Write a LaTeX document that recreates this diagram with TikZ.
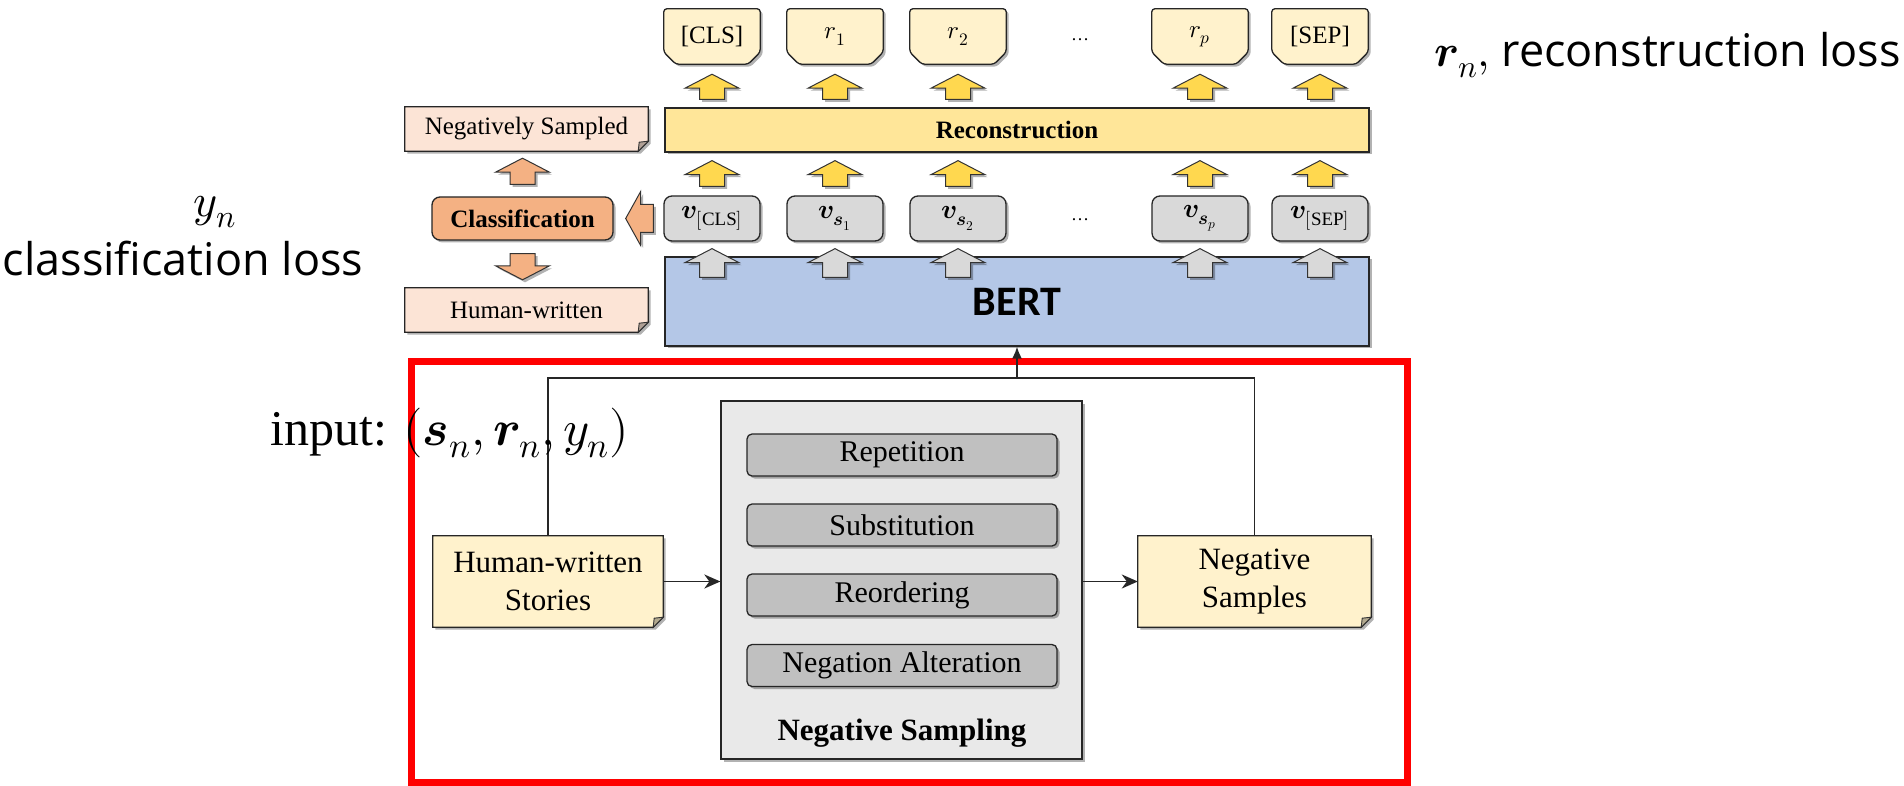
\documentclass[tikz,border=0pt]{standalone}
\usepackage{fontspec}
\usepackage{unicode-math}
\setmainfont{Liberation Serif}
\setmathfont{Latin Modern Math}
\newfontfamily\legendfont{Open Sans}
\newfontfamily\bertfont{Carlito}
\usetikzlibrary{arrows.meta, shadows, backgrounds, calc}

\definecolor{outY}{HTML}{FFF2CC}
\definecolor{recY}{HTML}{FFE699}
\definecolor{arrY}{HTML}{FFD84F}
\definecolor{vGray}{HTML}{D9D9D9}
\definecolor{bertBlue}{HTML}{B4C7E7}
\definecolor{peach}{HTML}{FCE4D6}
\definecolor{clsOr}{HTML}{F4B183}
\definecolor{nsGray}{HTML}{E9E9E9}
\definecolor{btnGray}{HTML}{C0C0C0}

\newcommand\fsz[2]{\fontsize{#1}{#2}\selectfont}

% output slot: square top, chamfered bottom corners
\newcommand\slotframe[1]{%
  \path[bord, shad, fill=outY, rounded corners=3pt]
    (#1.north west) -- (#1.north east) -- ([yshift=12pt]#1.south east)
    -- ([xshift=-12pt]#1.south east) -- ([xshift=12pt]#1.south west)
    -- ([yshift=12pt]#1.south west) -- cycle;}

% note with a folded bottom-right corner
\newcommand\noteframe[2]{%
  \path[bord, shad, fill=#2]
    (#1.north west) -- (#1.north east) -- ([yshift=10pt]#1.south east)
    -- ([xshift=-10pt]#1.south east) -- (#1.south west) -- cycle;
  \path[draw=black!80, line width=0.9pt, fill=#2!70!black]
    ([yshift=10pt]#1.south east) -- ([xshift=-10pt]#1.south east)
    -- ([xshift=-9pt,yshift=9pt]#1.south east) -- cycle;}

% block arrows: fill, reference for the axis, base point, tip point
\newcommand\fatup[4]{%
  \path[fatarr, fill=#1] let \p3=#2, \p1=#3, \p2=#4 in
    (\x3-12.5pt,\y1) -- (\x3+12.5pt,\y1) -- (\x3+12.5pt,\y2-14pt) -- (\x3+27pt,\y2-14pt)
    -- (\x3,\y2) -- (\x3-27pt,\y2-14pt) -- (\x3-12.5pt,\y2-14pt) -- cycle;}
\newcommand\fatdown[4]{%
  \path[fatarr, fill=#1] let \p3=#2, \p1=#3, \p2=#4 in
    (\x3-12.5pt,\y1) -- (\x3+12.5pt,\y1) -- (\x3+12.5pt,\y2+14pt) -- (\x3+27pt,\y2+14pt)
    -- (\x3,\y2) -- (\x3-27pt,\y2+14pt) -- (\x3-12.5pt,\y2+14pt) -- cycle;}
\newcommand\fatleft[4]{%
  \path[fatarr, fill=#1] let \p3=#2, \p1=#3, \p2=#4 in
    (\x1,\y3-14pt) -- (\x1,\y3+14pt) -- (\x2+15pt,\y3+14pt) -- (\x2+15pt,\y3+27pt)
    -- (\x2,\y3) -- (\x2+15pt,\y3-27pt) -- (\x2+15pt,\y3-14pt) -- cycle;}

\begin{document}
\begin{tikzpicture}[x=1pt, y=-1pt,
  bord/.style={draw=black!85, line width=1.3pt},
  shad/.style={drop shadow={shadow xshift=2.5pt, shadow yshift=-2.5pt, opacity=.3, fill=black}},
  fatarr/.style={draw=black!80, line width=1pt, shad},
  lbl/.style={inner sep=0pt, align=center, font=\fsz{25}{30}},
  outslot/.style={lbl, minimum width=96pt, minimum height=55pt},
  vbox/.style={lbl, bord, shad, fill=vGray, rounded corners=8pt, minimum width=96pt,
    minimum height=45pt, font=\fsz{27}{30}},
  notenode/.style={lbl, minimum width=243pt, minimum height=44pt},
  btn/.style={bord, shad, fill=btnGray, rounded corners=5pt, minimum width=310pt,
    minimum height=42pt, inner sep=0pt, font=\fsz{30}{36}},
  story/.style={inner sep=0pt, align=center, minimum height=91pt, font=\fsz{31}{38}},
  conn/.style={draw=black!85, line width=1.8pt},
  tip/.style={-{Stealth[length=16pt, width=14pt, inset=5pt]}}
]
\useasboundingbox (0,0) rectangle (1904,786);

% ---------- output tokens ----------
\node[outslot] (o1) at (712,36.5) {[CLS]};
\node[outslot] (o2) at (835,36.5) {$r_1$};
\node[outslot] (o3) at (958,36.5) {$r_2$};
\node[lbl, font=\fsz{18}{20}] (od) at (1080,40) {\dots};
\node[outslot] (o4) at (1200,36.5) {$r_p$};
\node[outslot] (o5) at (1320,36.5) {[SEP]};

% ---------- reconstruction head ----------
\node[lbl, bord, shad, fill=recY, minimum width=704pt, minimum height=44pt,
  font=\fsz{25}{30}\bfseries] (rec) at (1017,130) {Reconstruction};

% ---------- token representations ----------
\node[vbox] (v1) at (712,218.5) {$\symbfit{v}_{[\mathrm{CLS}]}$};
\node[vbox] (v2) at (835,218.5) {$\symbfit{v}_{\symbfit{s}_1}$};
\node[vbox] (v3) at (958,218.5) {$\symbfit{v}_{\symbfit{s}_2}$};
\node[lbl, font=\fsz{18}{20}] (vd) at (1080,220) {\dots};
\node[vbox] (v4) at (1200,218.5) {$\symbfit{v}_{\symbfit{s}_p}$};
\node[vbox] (v5) at (1320,218.5) {$\symbfit{v}_{[\mathrm{SEP}]}$};

% ---------- encoder ----------
\node[bord, shad, fill=bertBlue, minimum width=704pt, minimum height=89pt, inner sep=0pt,
  font=\bertfont\bfseries\fsz{42}{50}] (bert) at (1017,301.5) {BERT};

% ---------- classification head ----------
\node[notenode] (negs) at (526.5,129) {Negatively Sampled};
\node[lbl, bord, shad, fill=clsOr, rounded corners=8pt, minimum width=181pt, minimum height=43pt,
  font=\fsz{25}{30}\bfseries] (cls) at (522.5,218.5) {Classification};
\node[notenode] (hw) at (526.5,310) {Human-written};

% ---------- negative sampling ----------
\node[bord, shad, fill=nsGray, minimum width=361pt, minimum height=358pt, inner sep=0pt]
  (nsbox) at (901.5,580) {};
\node[btn] (b1) at (902,455) {Repetition};
\node[btn] (b2) at (902,525) {Substitution};
\node[btn] (b3) at (902,595) {Reordering};
\node[btn] (b4) at (902,665.5) {Negation Alteration};
\node[inner sep=0pt, font=\fsz{31}{36}\bfseries] (nslbl) at (902,733) {Negative Sampling};

\node[story, minimum width=230pt] (st) at (548,581.5) {Human-written\\Stories};
\node[story, minimum width=233pt] (nsamp) at (1254.5,581.5) {Negative\\Samples};

% ---------- frames behind the text ----------
\begin{scope}[on background layer]
  \fill[white] (0,0) rectangle (1904,786);
  \foreach \n in {o1,o2,o3,o4,o5} {\slotframe{\n}}
  \noteframe{negs}{peach}
  \noteframe{hw}{peach}
  \noteframe{st}{outY}
  \noteframe{nsamp}{outY}
\end{scope}

% ---------- block arrows ----------
\foreach \i in {1,...,5} {
  \fatup{arrY}{(o\i.south)}{([yshift=8pt]rec.north)}{([yshift=-10pt]o\i.south)}
  \fatup{arrY}{(v\i.north)}{([yshift=9pt]v\i.north)}{([yshift=-8pt]rec.south)}
  \fatup{vGray}{(v\i.south)}{([yshift=-21pt]bert.north)}{([yshift=-7pt]v\i.south)}
}
\fatup{clsOr}{(cls.north)}{([yshift=12pt]cls.north)}{([yshift=-7pt]negs.south)}
\fatdown{clsOr}{(cls.south)}{([yshift=-13pt]cls.south)}{([yshift=8pt]hw.north)}
\fatleft{clsOr}{(v1.west)}{([xshift=-10pt]v1.west)}{([xshift=12pt]cls.east)}

% ---------- highlight frame ----------
\draw[red, line width=7pt] (411,361.5) rectangle (1407,782);

% ---------- data flow ----------
\coordinate (jn) at (bert.south |- 0,378);
\draw[conn] (st.north) |- (jn) -| (nsamp.north);
\draw[conn, -{Latex[length=12pt, width=10pt]}] (jn) -- (bert.south);
\draw[conn, tip] (st.east) -- (st.east -| nsbox.west);
\draw[conn, tip] (nsbox.east |- nsamp.west) -- (nsamp.west);

% ---------- annotations ----------
\node[inner sep=0pt, font=\fsz{46}{50}] (ylab) at (215,212) {$y_n$};
\node[inner sep=0pt, font=\legendfont\fsz{45}{50}] (closs) at (183,259) {classification loss};
\node[inner sep=0pt, anchor=west, font=\legendfont\fsz{45}{50}] (rloss) at (1434,55)
  {$\symbfit{r}_n,$ reconstruction loss};
\node[inner sep=0pt, anchor=west, font=\fsz{50}{54}] (inlab) at (270,433)
  {input: $(\symbfit{s}_n, \symbfit{r}_n, y_n)$};
\end{tikzpicture}
\end{document}
